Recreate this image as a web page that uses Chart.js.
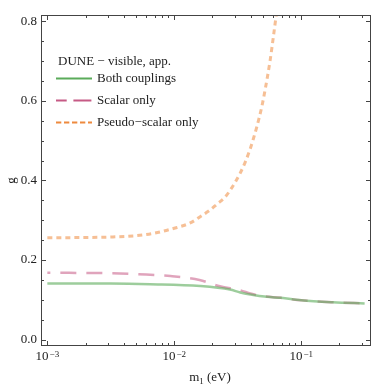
<!DOCTYPE html>
<html>
<head>
<meta charset="utf-8">
<script src="https://cdn.jsdelivr.net/npm/chart.js@4.4.1/dist/chart.umd.min.js"></script>
<style>
  html, body { margin: 0; padding: 0; background: #fff; }
  #chart { display: block; }
</style>
</head>
<body>
<canvas id="chart" width="374" height="386"></canvas>
<script>
// 資料
const bothM = [0.001, 0.00316, 0.00646, 0.0160, 0.0275, 0.0331, 0.0398, 0.0537, 0.0692, 0.1, 0.178, 0.316];
const bothG = [0.141, 0.141, 0.1395, 0.135, 0.126, 0.1185, 0.1135, 0.1075, 0.105, 0.099, 0.094, 0.091];

const scalarM = [0.001, 0.00316, 0.00646, 0.00933, 0.0158, 0.0229, 0.0331, 0.0398, 0.0479, 0.0692, 0.1, 0.178, 0.316];
const scalarG = [0.168, 0.167, 0.163, 0.160, 0.150, 0.134, 0.124, 0.116, 0.110, 0.105, 0.099, 0.094, 0.091];

const pseudoM = [0.001, 0.00316, 0.00631, 0.01, 0.0135, 0.0160, 0.0192, 0.0216, 0.0251, 0.0275, 0.0301, 0.0330,
    0.0361, 0.0395, 0.0420, 0.0447, 0.0489, 0.0519, 0.0568, 0.0603, 0.0641, 0.0708];
const pseudoG = [0.256, 0.258, 0.265, 0.280, 0.294, 0.309, 0.326, 0.340, 0.358, 0.375, 0.395, 0.418,
    0.445, 0.478, 0.505, 0.535, 0.585, 0.627, 0.700, 0.760, 0.825, 0.94];

const seriesNames = ["Both couplings", "Scalar only", "Pseudo\u2212scalar only"];
const legendTitle = "DUNE \u2212 visible, app.";

// 刻度
const xMajor = [0.001, 0.01, 0.1];
const xMajorExp = ["\u22123", "\u22122", "\u22121"];
const yMajor = [0, 0.2, 0.4, 0.6, 0.8];
const yMajorLabels = ["0.0", "0.2", "0.4", "0.6", "0.8"];

const SERIF = "'Liberation Serif', 'DejaVu Serif', serif";
const legendColors = ["#5bab5a", "#c65a85", "#ee8a3e"];
const lineColors = ["rgba(91,171,90,0.6)", "rgba(198,90,133,0.55)", "rgba(238,138,62,0.55)"];
const dashes = [[], [16, 10], [5, 4]];
const legendDashes = [[], [18, 6.7], [5.3, 2.7]];
const legendDashOffsets = [0, 7.3, 0];

function toPoints(xs, ys) {
    return xs.map((v, i) => ({ x: v, y: ys[i] }));
}

// 外框、刻度、文字
const frameAxes = {
    id: "frameAxes",
    afterDatasetsDraw(chart) {
        const { ctx, chartArea: a, scales: { x, y } } = chart;
        ctx.save();
        ctx.strokeStyle = "#444";
        ctx.lineWidth = 1;
        ctx.strokeRect(a.left + 0.5, a.top + 0.5, a.right - a.left - 1, a.bottom - a.top - 1);

        ctx.beginPath();
        // x 軸刻度（上下）
        xMajor.forEach(d => {
            for (let k = 1; k <= 9; k++) {
                const v = d * k;
                if (v < x.min || v > x.max) continue;
                const px = Math.round(x.getPixelForValue(v)) + 0.5;
                const len = k === 1 ? 5 : 3;
                ctx.moveTo(px, a.bottom);
                ctx.lineTo(px, a.bottom - len);
                ctx.moveTo(px, a.top);
                ctx.lineTo(px, a.top + len);
            }
        });
        // y 軸刻度（左右）
        for (let i = 0; i <= 16; i++) {
            const v = i * 0.05;
            const py = Math.round(y.getPixelForValue(v)) + 0.5;
            const len = i % 4 === 0 ? 5 : 3;
            ctx.moveTo(a.left, py);
            ctx.lineTo(a.left + len, py);
            ctx.moveTo(a.right, py);
            ctx.lineTo(a.right - len, py);
        }
        ctx.stroke();

        ctx.fillStyle = "#222";
        // y 軸標籤
        ctx.font = "13px " + SERIF;
        ctx.textAlign = "right";
        ctx.textBaseline = "middle";
        yMajor.forEach((v, i) => {
            ctx.fillText(yMajorLabels[i], a.left - 4, y.getPixelForValue(v));
        });

        // x 軸標籤 10^n
        ctx.textAlign = "left";
        ctx.textBaseline = "alphabetic";
        xMajor.forEach((v, i) => {
            ctx.font = "13px " + SERIF;
            const w1 = ctx.measureText("10").width;
            ctx.font = "9px " + SERIF;
            const w2 = ctx.measureText(xMajorExp[i]).width;
            const x0 = x.getPixelForValue(v) - (w1 + w2 + 1) / 2;
            ctx.font = "13px " + SERIF;
            ctx.fillText("10", x0, a.bottom + 14);
            ctx.font = "9px " + SERIF;
            ctx.fillText(xMajorExp[i], x0 + w1 + 1, a.bottom + 10.5);
        });

        // x 軸標題 m1 (eV)
        ctx.font = "13px " + SERIF;
        const wm = ctx.measureText("m").width;
        const wr = ctx.measureText(" (eV)").width;
        ctx.font = "9px " + SERIF;
        const ws = ctx.measureText("1").width;
        const cx = 210;
        const tx = cx - (wm + ws + wr) / 2;
        const by = 381;
        ctx.font = "13px " + SERIF;
        ctx.fillText("m", tx, by);
        ctx.font = "9px " + SERIF;
        ctx.fillText("1", tx + wm, by + 2.5);
        ctx.font = "13px " + SERIF;
        ctx.fillText(" (eV)", tx + wm + ws, by);

        // y 軸標題 g
        ctx.save();
        ctx.translate(12, (a.top + a.bottom) / 2);
        ctx.rotate(-Math.PI / 2);
        ctx.textAlign = "center";
        ctx.textBaseline = "middle";
        ctx.font = "13px " + SERIF;
        ctx.fillText("g", 0, 0);
        ctx.restore();

        // 圖例
        ctx.font = "13px " + SERIF;
        ctx.textAlign = "left";
        ctx.textBaseline = "middle";
        ctx.fillText(legendTitle, 58, 62);
        seriesNames.forEach((name, i) => {
            const ly = 78.5 + i * 22;
            ctx.beginPath();
            ctx.strokeStyle = legendColors[i];
            ctx.lineWidth = 2;
            ctx.setLineDash(legendDashes[i]);
            ctx.lineDashOffset = legendDashOffsets[i];
            ctx.moveTo(56, ly);
            ctx.lineTo(92, ly);
            ctx.stroke();
            ctx.setLineDash([]);
            ctx.lineDashOffset = 0;
            ctx.fillText(name, 97, ly);
        });
        ctx.restore();
    }
};

new Chart(document.getElementById("chart").getContext("2d"), {
    type: "line",
    data: {
        datasets: [
            { label: seriesNames[0], data: toPoints(bothM, bothG), borderColor: lineColors[0], borderWidth: 2.5, borderDash: dashes[0] },
            { label: seriesNames[1], data: toPoints(scalarM, scalarG), borderColor: lineColors[1], borderWidth: 2.5, borderDash: dashes[1], borderDashOffset: 13 },
            { label: seriesNames[2], data: toPoints(pseudoM, pseudoG), borderColor: lineColors[2], borderWidth: 3, borderDash: dashes[2] }
        ]
    },
    options: {
        responsive: false,
        animation: false,
        layout: { padding: { left: 41, right: 3, top: 15, bottom: 40 } },
        scales: {
            x: { type: "logarithmic", display: false, min: Math.pow(10, -3.05), max: Math.pow(10, -0.45) },
            y: { type: "linear", display: false, min: -0.016, max: 0.816 }
        },
        plugins: { legend: { display: false }, tooltip: { enabled: false } },
        elements: {
            point: { radius: 0 },
            line: { cubicInterpolationMode: "monotone", fill: false }
        }
    },
    plugins: [frameAxes]
});
</script>
</body>
</html>
